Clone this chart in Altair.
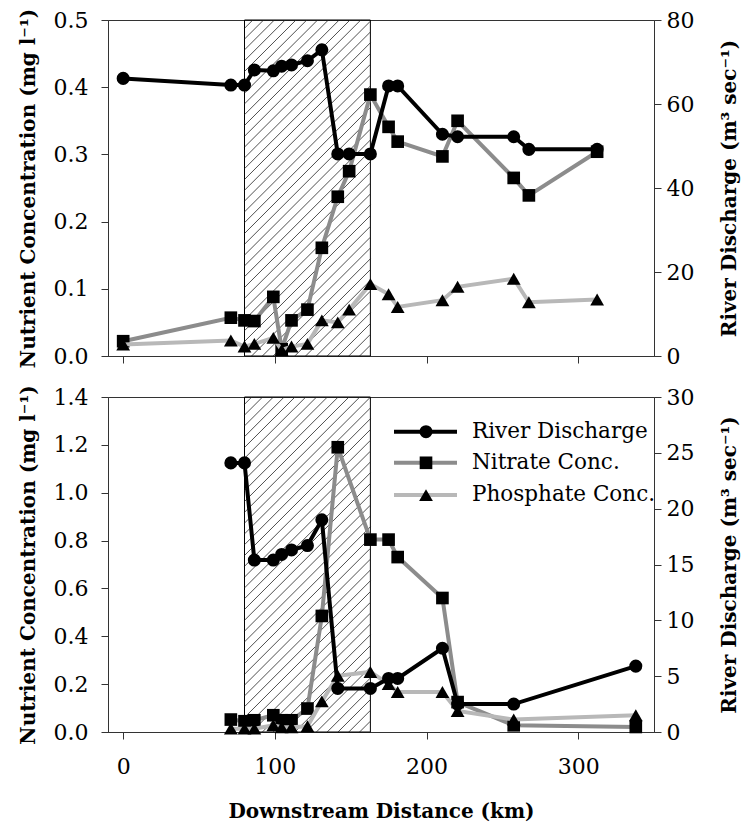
import altair as alt
import pandas as pd

# ---------------- data ----------------
km_top = [0, 71, 80, 86.5, 99, 104.5, 111, 121.5, 131, 141.5, 149, 163, 175, 181, 210.5, 220.5, 257.5, 267.5, 312.5]
discharge_top = [66.1, 64.5, 64.5, 68.1, 67.9, 69.0, 69.3, 70.3, 72.9, 48.1, 48.1, 48.1, 64.3, 64.3, 52.8, 52.2, 52.2, 49.2, 49.2]
nitrate_top = [0.022, 0.057, 0.053, 0.052, 0.088, 0.010, 0.053, 0.069, 0.161, 0.237, 0.275, 0.389, 0.341, 0.319, 0.297, 0.350, 0.265, 0.239, 0.304]
phosphate_top = [0.017, 0.023, 0.014, 0.018, 0.027, 0.009, 0.014, 0.018, 0.053, 0.050, 0.069, 0.107, 0.092, 0.073, 0.083, 0.103, 0.115, 0.080, 0.084]

km_bot = [71, 80, 86.5, 99, 104.5, 111, 121.5, 131, 141.5, 163, 175, 181, 210.5, 220.5, 257.5, 338]
discharge_bot = [24.1, 24.1, 15.4, 15.4, 15.9, 16.3, 16.7, 19.0, 3.9, 3.9, 4.8, 4.8, 7.5, 2.5, 2.5, 5.9]
nitrate_bot = [0.052, 0.045, 0.049, 0.070, 0.049, 0.049, 0.098, 0.485, 1.19, 0.804, 0.804, 0.731, 0.560, 0.125, 0.028, 0.021]
phosphate_bot = [0.014, 0.014, 0.014, 0.028, 0.020, 0.020, 0.024, 0.128, 0.235, 0.251, 0.200, 0.167, 0.167, 0.088, 0.052, 0.070]

zone_start, zone_end = 80, 163

x_ticks = [0, 100, 200, 300]
top_left_ticks = [0.0, 0.1, 0.2, 0.3, 0.4, 0.5]
top_right_ticks = [0, 20, 40, 60, 80]
bot_left_ticks = [0.0, 0.2, 0.4, 0.6, 0.8, 1.0, 1.2, 1.4]
bot_right_ticks = [0, 5, 10, 15, 20, 25, 30]

legend_labels = ["River Discharge", "Nitrate Conc.", "Phosphate Conc."]
legend_y = [1.255, 1.125, 0.99]

# ---------------- style ----------------
FONT = "DejaVu Serif"
FS = 22       # tick labels
FS_LEG = 21.5 # legend text
FS_T = 20     # axis titles (bold)
X_DOMAIN = [-10, 350]
W = 546
H_TOP = 336
H_BOT = 335
C_DIS = "#000000"
C_NIT = "#8c8c8c"
C_PHO = "#b8b8b8"
LW = 4
AXC = "#333333"

Y_TITLE = "Nutrient Concentration (mg l\u207b\u00b9)"
R_TITLE = "River Discharge (m\u00b3 sec\u207b\u00b9)"


def hatch_segments(x0, x1, ymax, height, pitch=10.8):
    sx = W / (X_DOMAIN[1] - X_DOMAIN[0])
    xa = (x0 - X_DOMAIN[0]) * sx
    xb = (x1 - X_DOMAIN[0]) * sx
    rows = []
    c = -xb
    while c < height - xa:
        lo = max(xa, -c)
        hi = min(xb, height - c)
        if lo < hi:
            rows.append(dict(km=lo / sx + X_DOMAIN[0], y=(lo + c) / height * ymax,
                             km2=hi / sx + X_DOMAIN[0], y2=(hi + c) / height * ymax))
        c += pitch
    return pd.DataFrame(rows)


def panel(km, dis, nit, pho, ymax, lticks, dmax, rticks, height, bottom, legend):
    df = pd.DataFrame({"km": km, "dis": dis, "nit": nit, "pho": pho})
    xaxis = alt.Axis(values=x_ticks, labels=bottom, title="Downstream Distance (km)" if bottom else None,
                     tickSize=7, labelPadding=17, titlePadding=24, grid=False)
    xscale = alt.Scale(domain=X_DOMAIN, nice=False, zero=False)
    xenc = alt.X("km:Q", scale=xscale, axis=xaxis)
    lscale = alt.Scale(domain=[0, ymax], nice=False, zero=False)
    laxis = alt.Axis(values=lticks, format=".1f", title=Y_TITLE, orient="left", tickSize=7,
                     labelPadding=13, titlePadding=15, grid=False)
    rscale = alt.Scale(domain=[0, dmax], nice=False, zero=False)
    raxis = alt.Axis(values=rticks, format="d", title=R_TITLE, orient="right", tickSize=7,
                     labelPadding=5, titlePadding=26, titleAngle=270, titleBaseline="top", grid=False)

    zone = pd.DataFrame({"km": [zone_start], "km2": [zone_end], "y": [0.0], "y2": [ymax]})
    rect = alt.Chart(zone).mark_rect(fillOpacity=0, stroke="black", strokeWidth=1).encode(
        x=xenc, x2="km2:Q", y=alt.Y("y:Q", scale=lscale, axis=laxis), y2="y2:Q")
    hatch = alt.Chart(hatch_segments(zone_start, zone_end, ymax, height)).mark_rule(
        color="#222222", strokeWidth=0.8).encode(
        x=xenc, x2="km2:Q", y=alt.Y("y:Q", scale=lscale, axis=laxis), y2="y2:Q")

    nit_line = alt.Chart(df).mark_line(color=C_NIT, strokeWidth=LW, point=alt.OverlayMarkDef(
        shape="square", filled=True, color="black", size=160, opacity=1)).encode(
        x=xenc, y=alt.Y("nit:Q", scale=lscale, axis=laxis))
    pho_line = alt.Chart(df).mark_line(color=C_PHO, strokeWidth=LW, point=alt.OverlayMarkDef(
        shape="triangle-up", filled=True, color="black", size=190, opacity=1)).encode(
        x=xenc, y=alt.Y("pho:Q", scale=lscale, axis=laxis))

    left_layers = [rect, hatch, nit_line, pho_line]

    if legend:
        sx = W / (X_DOMAIN[1] - X_DOMAIN[0])
        leg = pd.DataFrame({
            "label": legend_labels,
            "y": legend_y,
            "km": [(395 - 109) / sx + X_DOMAIN[0]] * 3,
            "km2": [(458 - 109) / sx + X_DOMAIN[0]] * 3,
            "kmm": [(427 - 109) / sx + X_DOMAIN[0]] * 3,
            "kmt": [(473 - 109) / sx + X_DOMAIN[0]] * 3,
            "col": [C_DIS, C_NIT, C_PHO],
            "shp": ["circle", "square", "triangle-up"],
            "sz": [170, 160, 190],
        })
        base = alt.Chart(leg)
        lrule = base.mark_rule(strokeWidth=LW).encode(
            x=xenc, x2="km2:Q", y=alt.Y("y:Q", scale=lscale, axis=laxis),
            color=alt.Color("col:N", scale=None))
        lpt = base.mark_point(filled=True, color="black", opacity=1).encode(
            x=alt.X("kmm:Q", scale=xscale, axis=xaxis),
            y=alt.Y("y:Q", scale=lscale, axis=laxis),
            shape=alt.Shape("shp:N", scale=None), size=alt.Size("sz:Q", scale=None))
        ltxt = base.mark_text(align="left", baseline="middle", font=FONT, fontSize=FS_LEG, color="black").encode(
            x=alt.X("kmt:Q", scale=xscale, axis=xaxis),
            y=alt.Y("y:Q", scale=lscale, axis=laxis), text="label:N")
        left_layers += [lrule, lpt, ltxt]

    left = alt.layer(*left_layers)
    right = alt.Chart(df).mark_line(color=C_DIS, strokeWidth=LW, point=alt.OverlayMarkDef(
        shape="circle", filled=True, color="black", size=170, opacity=1)).encode(
        x=xenc, y=alt.Y("dis:Q", scale=rscale, axis=raxis))
    return alt.layer(left, right).resolve_scale(y="independent").properties(width=W, height=height)


top = panel(km_top, discharge_top, nitrate_top, phosphate_top, 0.5, top_left_ticks, 80, top_right_ticks,
            H_TOP, False, False)
bot = panel(km_bot, discharge_bot, nitrate_bot, phosphate_bot, 1.4, bot_left_ticks, 30, bot_right_ticks,
            H_BOT, True, True)

chart = alt.vconcat(top, bot, spacing=41, bounds="flush").properties(
    padding={"left": 17, "top": 7, "right": 2, "bottom": 2},
    background="white",
).configure_view(stroke=AXC, strokeWidth=1).configure_axis(
    labelFont=FONT, labelFontSize=FS, labelColor="black",
    titleFont=FONT, titleFontSize=FS_T, titleFontWeight="bold", titleColor="black",
    domainColor=AXC, tickColor=AXC, domainWidth=1, tickWidth=1,
)

chart.save("out.html", embed_options={"renderer": "svg", "actions": False})
